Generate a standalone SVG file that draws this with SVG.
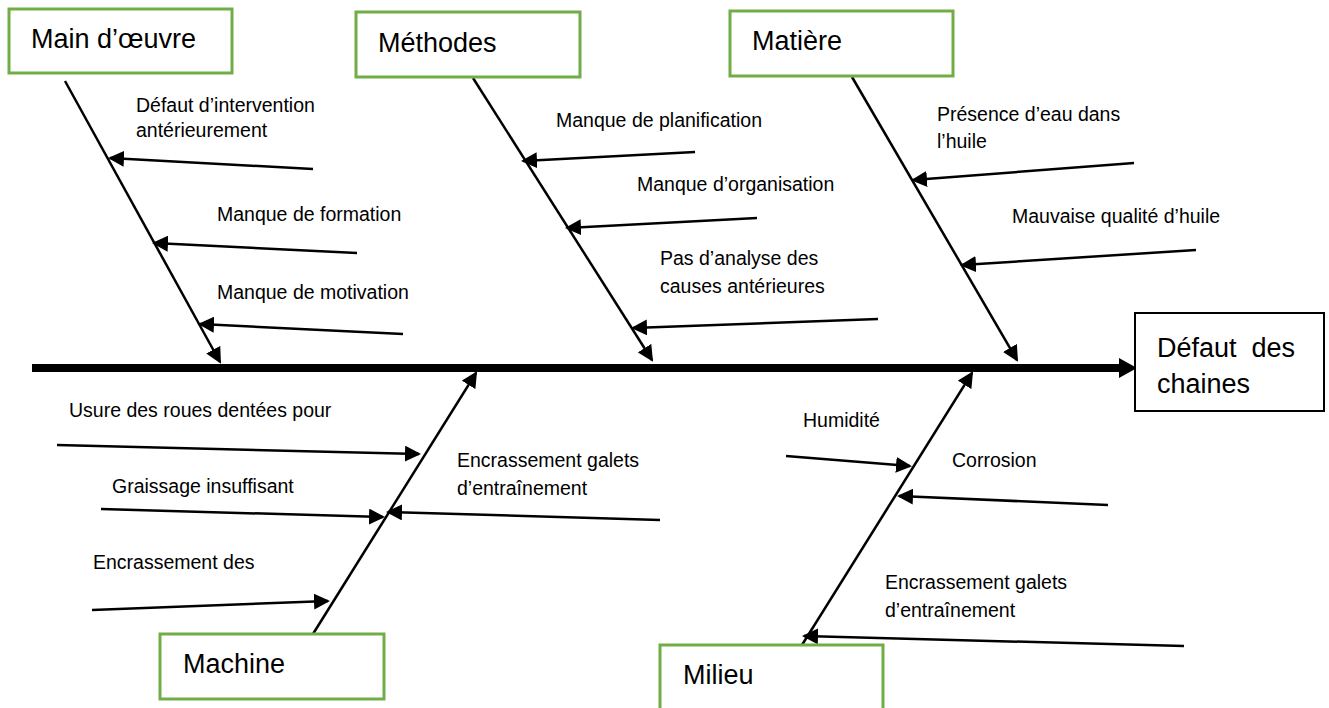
<svg xmlns="http://www.w3.org/2000/svg" width="1329" height="708" viewBox="0 0 1329 708">
<defs>
<style>
.box{fill:#fff;stroke:#70AD47;stroke-width:3}
.eff{fill:#fff;stroke:#000;stroke-width:2}
.big{font-family:"Liberation Sans",Arial,sans-serif;font-size:27px;fill:#000;white-space:pre}
.lbl{font-family:"Liberation Sans",Arial,sans-serif;font-size:19.5px;fill:#000}
.bone{stroke:#000;stroke-width:2.5;fill:none;marker-end:url(#ah)}
.sub{stroke:#000;stroke-width:2.5;fill:none;marker-end:url(#ah)}
</style>
<marker id="ah" markerUnits="userSpaceOnUse" markerWidth="16" markerHeight="16" refX="14" refY="8" orient="auto">
<path d="M0,0 L16,8 L0,16 z" fill="#000"/>
</marker>
<marker id="spineHead" markerUnits="userSpaceOnUse" markerWidth="18" markerHeight="20" refX="0" refY="10" orient="auto">
<path d="M0,0 L18,10 L0,20 z" fill="#000"/>
</marker>
</defs>
<rect width="1329" height="708" fill="#fff"/>

<g id="connectors">
<line x1="32" y1="368" x2="1119" y2="368" stroke="#000" stroke-width="8" marker-end="url(#spineHead)"/>
<line class="bone" x1="65" y1="81" x2="220" y2="362"/>
<line class="bone" x1="473" y1="78" x2="652" y2="360"/>
<line class="bone" x1="852" y1="77" x2="1017" y2="360"/>
<line class="bone" x1="313" y1="634" x2="476" y2="373"/>
<line class="bone" x1="802" y1="645" x2="972" y2="373"/>
<line class="sub" x1="313" y1="169" x2="110" y2="158"/>
<line class="sub" x1="357" y1="253" x2="154" y2="243"/>
<line class="sub" x1="403" y1="334" x2="200" y2="324"/>
<line class="sub" x1="695" y1="152" x2="523" y2="161"/>
<line class="sub" x1="757" y1="218" x2="567" y2="228"/>
<line class="sub" x1="878" y1="319" x2="633" y2="328"/>
<line class="sub" x1="1134" y1="163" x2="913" y2="180"/>
<line class="sub" x1="1196" y1="250" x2="962" y2="265"/>
<line class="sub" x1="57" y1="445" x2="419" y2="454"/>
<line class="sub" x1="101" y1="509" x2="383" y2="517"/>
<line class="sub" x1="92" y1="610" x2="328" y2="601"/>
<line class="sub" x1="660" y1="520" x2="388" y2="512"/>
<line class="sub" x1="786" y1="456" x2="910" y2="466"/>
<line class="sub" x1="1108" y1="505" x2="899" y2="496"/>
<line class="sub" x1="1184" y1="646" x2="804" y2="636"/>
</g>

<g id="main-oeuvre">
<rect class="box" x="9" y="9" width="223" height="64"/>
<text class="big" x="31" y="48">Main d’œuvre</text>
</g>
<g id="methodes">
<rect class="box" x="356" y="12" width="224" height="65"/>
<text class="big" x="378" y="52">Méthodes</text>
</g>
<g id="matiere">
<rect class="box" x="730" y="11" width="223" height="65"/>
<text class="big" x="752" y="50">Matière</text>
</g>
<g id="defaut-chaines">
<rect class="eff" x="1135" y="313" width="189" height="98"/>
<text class="big" x="1157" y="357">Défaut  des</text>
<text class="big" x="1157" y="393">chaines</text>
</g>
<g id="machine">
<rect class="box" x="160" y="634" width="224" height="65"/>
<text class="big" x="183" y="673">Machine</text>
</g>
<g id="milieu">
<rect class="box" x="660" y="645" width="223" height="70"/>
<text class="big" x="683" y="684">Milieu</text>
</g>

<g id="labels">
<text class="lbl" x="136" y="112">Défaut d’intervention</text>
<text class="lbl" x="136" y="137">antérieurement</text>
<text class="lbl" x="217" y="221">Manque de formation</text>
<text class="lbl" x="217" y="299">Manque de motivation</text>
<text class="lbl" x="556" y="127">Manque de planification</text>
<text class="lbl" x="637" y="191">Manque d’organisation</text>
<text class="lbl" x="660" y="265">Pas d’analyse des</text>
<text class="lbl" x="660" y="293">causes antérieures</text>
<text class="lbl" x="937" y="121">Présence d’eau dans</text>
<text class="lbl" x="937" y="148">l’huile</text>
<text class="lbl" x="1012" y="223">Mauvaise qualité d’huile</text>
<text class="lbl" x="69" y="417">Usure des roues dentées pour</text>
<text class="lbl" x="112" y="493">Graissage insuffisant</text>
<text class="lbl" x="93" y="569">Encrassement des</text>
<text class="lbl" x="457" y="467">Encrassement galets</text>
<text class="lbl" x="457" y="495">d’entraînement</text>
<text class="lbl" x="803" y="427">Humidité</text>
<text class="lbl" x="952" y="467">Corrosion</text>
<text class="lbl" x="885" y="589">Encrassement galets</text>
<text class="lbl" x="885" y="617">d’entraînement</text>
</g>
</svg>
